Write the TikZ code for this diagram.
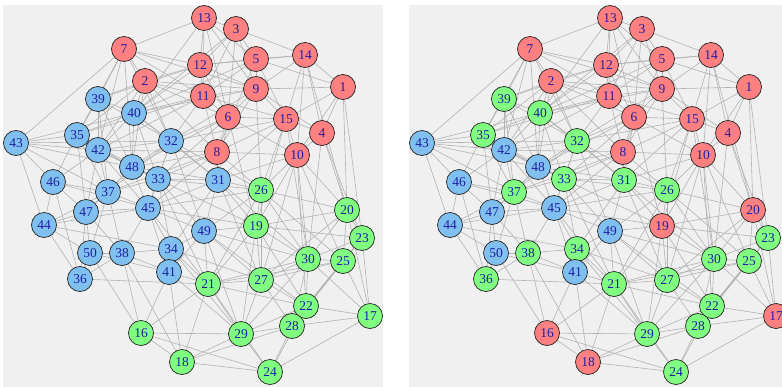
\documentclass[tikz,border=0pt]{standalone}
\usepackage{fontspec}
\setmainfont{Liberation Serif}
\definecolor{vred}{RGB}{255,128,128}
\definecolor{vgreen}{RGB}{128,255,128}
\definecolor{vblue}{RGB}{128,192,240}
\definecolor{vtext}{RGB}{30,30,160}
\definecolor{vline}{RGB}{35,35,35}
\definecolor{elin}{RGB}{178,178,178}
\definecolor{panelbg}{RGB}{240,240,240}
\pgfdeclarelayer{panel}
\pgfdeclarelayer{edges}
\pgfsetlayers{panel,edges,main}

% vertex number / x / y (left panel; the right panel is shifted by 406)
\newcommand\vertexlist{1/343/87,2/145/81,3/236/29,4/322/133,5/256/59,
6/228/117,7/124/49,8/217/152,9/256/89,10/297/155,11/203/96,12/200/65,
13/204/18,14/305/55,15/286/119,16/141/333,17/370/316,18/182/362,
19/256/226,20/347/210,21/208/284,22/306/306,23/362/238,24/270/372,
25/343/261,26/261/190,27/261/280,28/292/326,29/241/334,30/308/259,
31/218/180,32/171/141,33/158/179,34/171/249,35/77/135,36/80/279,
37/108/192,38/122/253,39/98/99,40/134/113,41/169/272,42/98/150,
43/16/143,44/44/225,45/148/208,46/53/182,47/86/212,48/132/167,
49/204/231,50/90/253}

% undirected edges
\newcommand\edgelist{1/14,1/9,1/4,1/15,1/10,1/5,
14/5,14/3,14/15,14/4,14/10,14/12,14/9,
13/3,13/12,13/11,13/5,13/9,13/7,13/6,
3/5,3/12,3/9,3/6,3/11,
5/12,5/9,5/11,5/15,5/8,
12/11,12/9,12/6,12/2,12/7,
11/9,11/6,11/8,11/2,11/15,
9/6,9/15,9/4,9/8,
6/15,6/8,6/10,6/2,
15/4,15/10,15/8,
4/10,8/10,8/2,7/2,7/11,7/9,2/9,
7/43,7/39,7/42,7/35,2/39,2/40,2/32,11/40,11/35,12/39,6/32,6/48,
8/31,8/33,8/48,8/42,9/40,15/32,13/40,6/33,11/32,2/42,
7/48,7/32,2/35,2/48,12/40,11/42,3/40,9/32,6/31,8/45,8/37,5/40,
15/31,10/31,
10/26,10/19,10/20,10/30,10/27,15/26,4/20,4/23,8/26,6/19,9/26,1/23,15/30,
10/25,10/22,15/19,4/30,14/20,1/20,
43/35,43/42,43/46,43/44,43/40,43/32,43/37,43/48,
39/40,39/35,39/42,39/48,39/32,39/37,
40/32,40/42,40/48,40/33,40/35,40/31,
35/42,35/46,35/37,35/47,35/48,35/33,
42/48,42/37,42/46,42/47,42/33,42/45,42/32,
32/48,32/33,32/31,32/45,32/49,32/37,
48/33,48/37,48/45,48/47,48/31,
33/45,33/31,33/37,33/34,33/49,
46/37,46/47,46/44,46/36,46/45,
37/47,37/45,37/44,37/50,37/38,
47/44,47/50,47/38,47/45,47/36,
44/36,44/50,44/45,44/34,
45/34,45/38,45/49,45/41,
50/38,50/36,50/41,
38/34,38/41,38/36,
34/41,34/49,31/49,31/45,31/34,49/41,
16/29,16/18,16/21,16/24,
18/29,18/24,18/28,18/21,
24/29,24/28,24/22,24/17,24/21,
29/21,29/28,29/27,29/22,29/30,29/19,
28/22,28/17,28/27,28/25,28/30,28/23,
22/17,22/30,22/25,22/27,22/21,22/19,22/23,
17/25,17/23,17/20,17/30,
25/30,25/23,25/20,25/27,25/21,25/26,
23/20,23/30,23/19,
20/30,20/26,20/19,20/27,
30/27,30/19,30/26,30/21,
27/21,27/19,27/26,
19/26,19/21,26/21,
36/21,41/16,38/16,38/18,41/18,49/21,49/27,49/19,49/29,34/21,
31/26,31/19,45/19,41/21,31/30,33/26,32/26,50/16,49/26,34/29,
49/30,49/22,41/29,34/27,45/21,31/27,33/21,45/26,48/19}

\begin{document}
\begin{tikzpicture}[x=1pt,y=-1pt,
  vtx/.style={circle,draw=vline,line width=0.7pt,minimum size=25pt,
    inner sep=0pt,text=vtext,font=\fontsize{13.5}{13.5}\selectfont},
  link/.style={draw=elin,line width=0.6pt}]
\useasboundingbox (0,0) rectangle (782,386);
\clip (0,0) rectangle (782,386);
\begin{pgfonlayer}{panel}
  \fill[white] (0,0) rectangle (782,386);
  \fill[panelbg] (3,5) rectangle (383,390);
  \fill[panelbg] (409,5) rectangle (790,390);
\end{pgfonlayer}
% left panel: three groups 1-15, 16-30, 31-50
\foreach \n/\x/\y in \vertexlist {
  \ifnum\n<16 \def\cl{vred}\else\ifnum\n<31 \def\cl{vgreen}\else\def\cl{vblue}\fi\fi
  \node[vtx,fill=\cl] (L\n) at (\x,\y) {\n};
}
% right panel: three groups 1-20, 21-40, 41-50
\foreach \n/\x/\y in \vertexlist {
  \ifnum\n<21 \def\cl{vred}\else\ifnum\n<41 \def\cl{vgreen}\else\def\cl{vblue}\fi\fi
  \node[vtx,fill=\cl] (R\n) at (\x+406,\y) {\n};
}
\begin{pgfonlayer}{edges}
  \foreach \a/\b in \edgelist {
    \draw[link] (L\a) -- (L\b);
    \draw[link] (R\a) -- (R\b);
  }
\end{pgfonlayer}
\end{tikzpicture}
\end{document}
